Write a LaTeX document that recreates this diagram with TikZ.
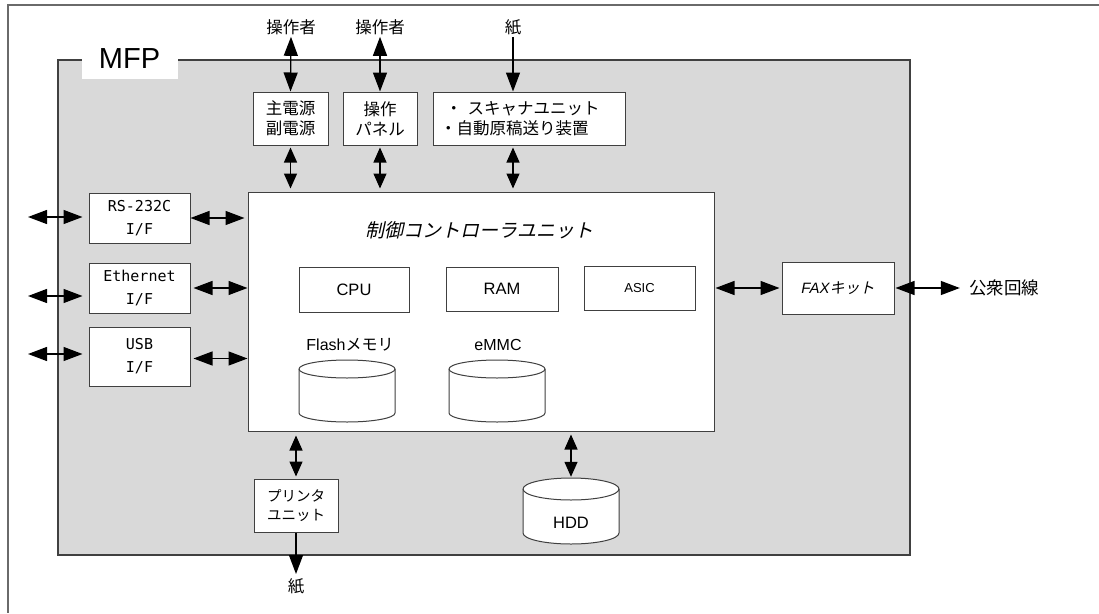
\documentclass[tikz,border=0pt]{standalone}
\usepackage{fontspec}
\setmainfont{Liberation Sans}
\newfontfamily\jp{Noto Sans CJK JP}
\newfontfamily\jpsl{Noto Sans CJK JP}[FakeSlant=0.22]
\newfontfamily\monof{DejaVu Sans Mono}
\usetikzlibrary{arrows.meta}
\definecolor{mfpfill}{HTML}{D9D9D9}
\definecolor{edge}{HTML}{404040}
\definecolor{frame}{HTML}{6A6A6A}
\newcommand\mycyl[7]{% name, cx, ytop, ybot, rx, ry, text
  \path[draw=edge, line width=1pt, fill=white]
    ({#2-#5},{#3+#6}) -- ({#2-#5},{#4-#6})
    arc[start angle=180, end angle=360, x radius=#5pt, y radius=#6pt]
    -- ({#2+#5},{#3+#6})
    arc[start angle=0, end angle=180, x radius=#5pt, y radius=#6pt] -- cycle;
  \draw[draw=edge, line width=1pt] ({#2-#5},{#3+#6})
    arc[start angle=180, end angle=360, x radius=#5pt, y radius=#6pt];
  \node[inner sep=0pt, minimum width={2*#5 pt}, minimum height={(#4-#3)*1pt}] (#1) at (#2,{(#3+#4)/2}) {#7};
}
\begin{document}
\begin{tikzpicture}[x=1pt,y=-1pt,
  box/.style={draw=edge, line width=1pt, fill=white, align=center, inner sep=0pt},
  jptext/.style={font=\jp\fontsize{16.5}{20}\selectfont},
  iftext/.style={font=\monof\fontsize{15}{23}\selectfont},
  lbl/.style={inner sep=1pt},
  biarrow/.style={line width=1.3pt, {Triangle[length=19pt,width=14pt]}-{Triangle[length=19pt,width=14pt]}},
  shortbi/.style={line width=1.3pt, {Triangle[length=15pt,width=13pt]}-{Triangle[length=15pt,width=13pt]}},
  onearrow/.style={line width=1.3pt, -{Triangle[length=19pt,width=14pt]}},
]
\useasboundingbox (0,0) rectangle (1099,613);
% outer frame
\draw[frame, line width=1.3pt] (1099,5) -- (8,5) -- (8,613);
% MFP
\draw[draw=edge, line width=1.5pt, fill=mfpfill] (58,60) rectangle (910,555);
\fill[white] (82,50) rectangle (178,79);
\node[lbl, font=\fontsize{29}{30}\selectfont] (mfp) at (129.5,59) {MFP};

% top labels
\node[lbl, jptext] (op1) at (291,27) {操作者};
\node[lbl, jptext] (op2) at (380,27) {操作者};
\node[lbl, jptext] (paper1) at (513,27) {紙};

% top boxes
\node[box, jptext, minimum width=75pt, minimum height=53pt] (psu) at (290.5,118.5) {主電源\\副電源};
\node[box, jptext, minimum width=74pt, minimum height=53pt] (panel) at (380,118.5) {操作\\パネル};
\node[box, jptext, align=left, text width=178pt, minimum width=192pt, minimum height=53pt] (scan) at (529,118.5) {\ ・ スキャナユニット\\・自動原稿送り装置};

% controller
\node[box, minimum width=466pt, minimum height=239pt] (ctrl) at (481,311.5) {};
\node[lbl, font=\jpsl\fontsize{19}{22}\selectfont] (ctitle) at (479,230) {制御コントローラユニット};
\node[box, minimum width=110pt, minimum height=45pt, font=\fontsize{16.5}{18}\selectfont] (cpu) at (354,289.5) {CPU};
\node[box, minimum width=112pt, minimum height=44pt, font=\fontsize{16.5}{18}\selectfont] (ram) at (502,289) {RAM};
\node[box, minimum width=111pt, minimum height=44pt, font=\fontsize{13}{16}\selectfont] (asic) at (639.5,288) {ASIC};
\node[lbl, font=\fontsize{16}{18}\selectfont] (flashlbl) at (350,345) {Flash{\jp メモリ}};
\node[lbl, font=\fontsize{16}{18}\selectfont] (emmclbl) at (498,345) {eMMC};
\mycyl{flash}{347}{360}{422}{48}{9}{}
\mycyl{emmc}{497}{360}{422}{48}{9}{}

% interfaces
\node[box, iftext, minimum width=101pt, minimum height=50pt] (rs) at (139.5,218) {RS-232C\\I/F};
\node[box, iftext, minimum width=101pt, minimum height=50pt] (eth) at (139.5,288) {Ethernet\\I/F};
\node[box, iftext, minimum width=101pt, minimum height=59pt] (usb) at (139.5,356.5) {USB\\I/F};
\coordinate (rsx) at (28,217);
\coordinate (ethx) at (28,296);
\coordinate (usbx) at (28,354);

% FAX
\node[box, minimum width=112pt, minimum height=52pt] (fax) at (838,288) {{\fontsize{15}{18}\selectfont\itshape FAX}{\jpsl\fontsize{15}{18}\selectfont キット}};
\node[lbl, font=\jp\fontsize{17.5}{20}\selectfont] (pub) at (1004,288) {公衆回線};

% printer, paper, HDD
\node[box, font=\jp\fontsize{14.5}{19}\selectfont, minimum width=84pt, minimum height=53pt] (prn) at (296,505.5) {プリンタ\\ユニット};
\node[lbl, jptext] (paper2) at (296,586) {紙};
\mycyl{hdd}{571}{478}{544}{48}{11}{}
\node[lbl, font=\fontsize{16.5}{18}\selectfont] (hddlbl) at (571,523) {HDD};

% connectors
\draw[biarrow, shorten <=1pt] (op1.south) -- (psu.north);
\draw[biarrow, shorten <=1pt] (op2.south) -- (panel.north);
\draw[onearrow, shorten <=1pt] (paper1.south) -- (paper1.south |- scan.north);
\draw[shortbi, shorten <=2pt, shorten >=3pt] (psu.south) -- (psu.south |- ctrl.north);
\draw[shortbi, shorten <=2pt, shorten >=3pt] (panel.south) -- (panel.south |- ctrl.north);
\draw[shortbi, shorten <=2pt, shorten >=3pt] (paper1.south |- scan.south) -- (paper1.south |- ctrl.north);

\draw[biarrow, shorten >=6pt] (rsx) -- (rsx -| rs.west);
\draw[biarrow, shorten >=6pt] (ethx) -- (ethx -| eth.west);
\draw[biarrow, shorten >=6pt] (usbx) -- (usbx -| usb.west);
\draw[biarrow, shorten >=3pt] (rs.east) -- (rs.east -| ctrl.west);
\draw[biarrow, shorten <=3pt] (eth.east) -- (eth.east -| ctrl.west);
\draw[biarrow, shorten <=3pt] ([yshift=-2pt]usb.east) -- ([yshift=-2pt]usb.east -| ctrl.west);

\draw[biarrow, shorten <=1pt, shorten >=2pt] (fax.west -| ctrl.east) -- (fax.west);
\draw[biarrow, shorten <=1pt, shorten >=8pt] (fax.east) -- (pub.west);

\draw[shortbi, shorten <=4pt, shorten >=2pt] (prn.north |- ctrl.south) -- (prn.north);
\draw[onearrow, shorten >=3pt] (prn.south) -- (paper2.north);
\draw[shortbi, shorten <=3pt, shorten >=1pt] (hdd.north |- ctrl.south) -- (hdd.north);
\end{tikzpicture}
\end{document}
